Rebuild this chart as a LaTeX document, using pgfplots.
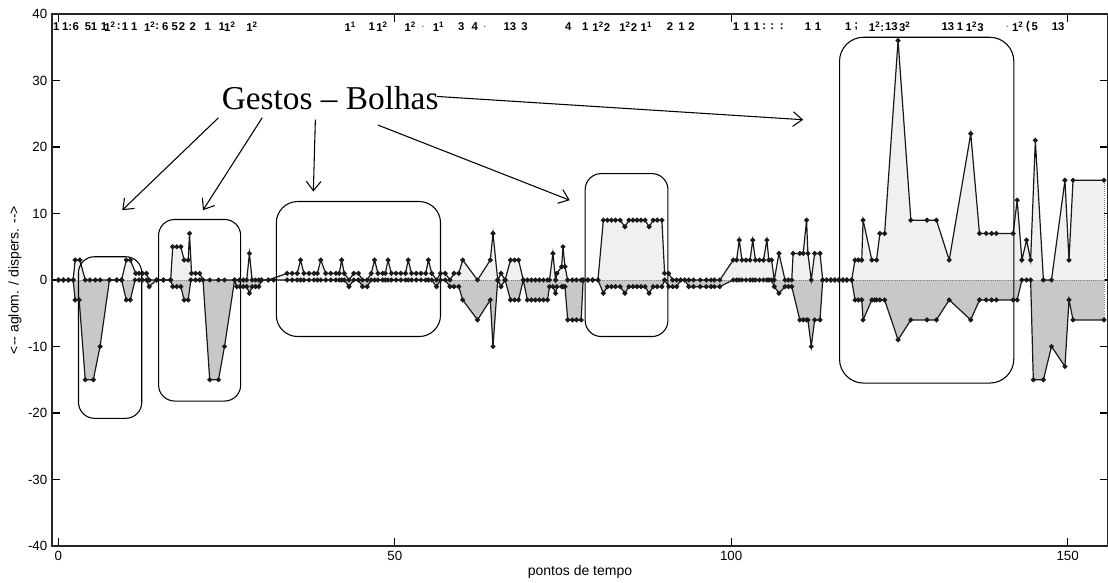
\documentclass[border=0pt]{standalone}
\usepackage{fontspec}
\setmainfont{Liberation Sans}
\newfontfamily\timesfont{Liberation Serif}
\usepackage{pgfplots}
\usepackage{pgfplotstable}
\pgfplotsset{compat=1.18}
\usetikzlibrary{arrows.meta}
\definecolor{ufill}{RGB}{240,240,240}
\definecolor{lfill}{RGB}{200,200,200}
\tikzset{tl/.style={font=\fontsize{8.5}{9}\selectfont\bfseries, inner sep=0pt}}

\pgfplotstableread{
t y
0 0
0.75 0
1.5 0
2.2 0
2.5 3
3.2 3
4.0 0
4.7 0
5.5 0
6.2 0
7.6 0
8.7 0
9.4 0
10.1 3
10.7 3
11.5 1
12.0 1
12.5 1
13.1 1
13.5 0
14.6 0
15.6 0
16.7 0
17.0 5
17.6 5
18.2 5
18.7 3
19.3 3
19.5 7
19.8 1
20.4 1
21.0 1
21.5 0
22.5 0
23.8 0
24.7 0
26.2 0
26.9 0
27.5 0
28.0 0
28.4 4
28.8 0
29.3 0
29.8 0
30.2 0
31.2 0
34.0 1
34.75 1
35.5 1
36.0 3
36.5 1
37.25 1
38.0 1
38.5 1
39.0 3
39.75 1
40.5 1
41.25 1
41.75 1
42.1 3
42.5 1
43.2 0
43.9 1
44.6 1
45.2 0
45.9 0
46.5 1
47.0 3
47.5 1
48.2 1
48.6 1
49.0 3
49.5 1
50.2 1
50.9 1
51.6 1
52.0 3
52.5 1
53.2 1
53.9 1
54.6 1
55.0 3
55.5 1
56.2 0
56.8 1
57.5 1
58.2 0
58.8 1
59.5 1
60.1 3
62.3 0
64.2 3
64.6 7
65.3 0
65.8 1
66.4 0
67.2 3
67.8 3
68.4 3
69.1 0
69.7 0
70.3 0
70.9 0
71.5 0
72.1 0
72.7 0
73.0 0
73.5 4
73.9 0
74.1 1
74.8 2
75.0 5
75.3 2
75.7 0
76.4 0
77.0 0
77.7 0
78.0 0
78.7 0
79.4 0
80.2 0
81.0 9
81.6 9
82.2 9
82.8 9
83.5 9
84.2 8
84.8 9
85.4 9
86.0 9
86.6 9
87.2 9
87.8 8
88.4 9
89.0 9
89.7 9
90.1 1
90.7 1
91.3 0
91.9 0
92.5 0
93.1 0
93.7 0
94.4 0
95.4 0
96.3 0
97.0 0
97.5 0
98.3 0
100.3 3
100.8 3
101.2 6
101.6 3
102.2 3
102.8 3
103.2 6
103.6 3
104.2 3
104.8 3
105.3 6
105.6 3
106.0 3
106.4 0
107.1 4
108.0 0
108.5 0
109.0 0
109.2 4
110.2 4
110.7 4
111.2 9
111.4 4
111.9 0
112.4 4
113.2 4
113.6 0
114.2 0
114.8 0
115.4 0
116.0 0
116.6 0
117.2 0
117.9 0
118.4 3
118.9 3
119.4 3
119.6 9
120.9 3
121.6 3
122.1 7
122.8 7
124.8 36
126.7 9
129.1 9
130.5 9
132.4 3
135.6 22
136.9 7
137.9 7
138.7 7
139.4 7
141.9 7
142.5 12
143.2 3
143.9 6
144.5 3
145.2 21
146.4 0
147.6 0
149.6 15
150.2 3
150.8 15
155.4 15
}\upperdata

\pgfplotstableread{
t y
0 0
0.75 0
1.5 0
2.2 0
2.5 -3
3.1 -3
4.0 -15
5.2 -15
6.2 -10
7.6 0
8.7 0
9.4 0
10.1 -3
10.7 -3
11.4 0
12.0 0
12.5 0
13.1 0
13.5 -1
14.6 0
15.6 0
16.7 0
17.0 -1
17.6 -1
18.2 -1
18.7 -3
19.3 -3
19.7 0
20.4 0
21.0 0
21.5 0
22.5 -15
23.8 -15
24.7 -10
26.2 0
26.5 -1
27.0 -1
27.5 -1
28.0 -1
28.4 -2
28.8 -1
29.3 -1
29.8 -1
30.2 0
31.2 0
32.0 0
34.0 0
34.75 0
35.5 0
36.0 0
36.5 0
37.25 0
38.0 0
38.5 0
39.0 0
39.75 0
40.5 0
41.25 0
41.75 0
42.1 0
42.5 0
43.2 -1
43.9 0
44.6 0
45.2 -1
45.9 -1
46.5 0
47.0 0
47.5 0
48.2 0
48.6 0
49.0 0
49.5 0
50.2 0
50.9 0
51.6 0
52.0 0
52.5 0
53.2 0
53.9 0
54.6 0
55.0 0
55.5 0
56.2 -1
56.8 0
57.5 0
58.2 -1
58.8 -1
59.5 -1
60.1 -3
62.3 -6
64.2 -3
64.6 -10
65.3 0
65.8 -1
66.4 0
67.2 -3
67.8 -3
68.4 -3
69.1 0
69.7 -3
70.3 -3
70.9 -3
71.5 -3
72.1 -3
72.7 -3
73.0 -1
73.5 -1
73.9 -2
74.1 -1
74.8 -1
75.0 -1
75.3 -1
75.7 -6
76.4 -6
77.0 -6
77.7 -6
78.0 0
78.7 0
79.4 0
80.2 0
81.0 -2
81.6 -1
82.2 -1
82.8 -1
83.5 -1
84.2 -2
84.8 -1
85.4 -1
86.0 -1
86.6 -1
87.2 -1
87.8 -2
88.4 -1
89.0 -1
89.7 -1
90.1 0
90.7 -1
91.3 -1
91.9 -1
92.5 0
93.1 0
93.7 -1
94.4 -1
95.4 -1
96.3 -1
97.0 -1
97.5 -1
98.3 -1
100.3 0
100.8 0
101.2 0
101.6 0
102.2 0
102.8 0
103.2 0
103.6 0
104.2 0
104.8 0
105.3 0
105.6 0
106.0 0
106.4 -1
107.1 -2
108.0 -1
108.5 -1
109.0 -1
110.2 -6
110.7 -6
111.2 -6
111.4 -6
111.9 -10
112.4 -6
113.2 -6
113.6 0
114.2 0
114.8 0
115.4 0
116.0 0
116.6 0
117.2 0
117.9 0
118.4 -3
118.9 -3
119.4 -3
119.6 -6
120.9 -3
121.3 -3
121.6 -3
122.1 -3
122.8 -3
124.8 -9
126.7 -6
129.1 -6
130.5 -6
132.4 -3
135.6 -6
136.9 -3
137.9 -3
138.7 -3
139.4 -3
141.9 -3
142.5 -3
143.2 0
143.9 0
144.5 0
144.9 -15
146.4 -15
147.6 -10
149.6 -13
150.2 -3
150.8 -6
155.4 -6
}\lowerdata

\begin{document}
\begin{tikzpicture}
\begin{axis}[
  scale only axis, width=792pt, height=399pt,
  xmin=-0.94, xmax=156, ymin=-40, ymax=40,
  xtick={0,50,100,150}, ytick={-40,-30,...,40},
  tick align=inside, major tick length=6pt,
  axis line style={black!85, line width=1.1pt},
  every tick/.style={black, line width=0.8pt},
  tick label style={font=\fontsize{10}{11}\selectfont},
  /pgf/number format/assume math mode=true,
  xlabel={pontos de tempo},
  ylabel={<-{}- aglom. / dispers. -{}->},
  label style={font=\fontsize{10.5}{11}\selectfont},
  xlabel style={at={(axis description cs:0.5,-0.049)}, anchor=center},
  ylabel style={at={(axis description cs:-0.035,0.5)}, anchor=center},
  clip=false,
]
\addplot[draw=none, fill=ufill] table {\upperdata} \closedcycle;
\addplot[draw=none, fill=lfill] table {\lowerdata} \closedcycle;
\draw[densely dotted, gray, line width=0.6pt] (axis cs:0,0) -- (axis cs:155.4,0);
\draw[densely dotted, gray, line width=0.6pt] (axis cs:155.4,-6) -- (axis cs:155.4,15);
\addplot[black!90, line width=0.9pt, mark=*, mark size=1.4pt] table {\upperdata};
\addplot[black!90, line width=0.9pt, mark=*, mark size=1.4pt] table {\lowerdata};

% boxes
\draw[black, line width=0.8pt, rounded corners=12pt] (axis cs:3.0,3.5) rectangle (axis cs:12.4,-20.8);
\draw[black, line width=0.8pt, rounded corners=12pt] (axis cs:14.9,9.1) rectangle (axis cs:27.1,-18.2);
\draw[black, line width=0.8pt, rounded corners=16pt] (axis cs:32.4,11.8) rectangle (axis cs:56.8,-8.5);
\draw[black, line width=0.8pt, rounded corners=12pt] (axis cs:78.3,16.0) rectangle (axis cs:90.6,-8.5);
\draw[black, line width=0.8pt, rounded corners=18pt] (axis cs:116.1,36.5) rectangle (axis cs:142.0,-15.5);

% arrows
\draw[black, line width=0.8pt, -{Straight Barb[length=7pt,width=11pt]}] (axis cs:23.8,24.4) -- (axis cs:9.5,10.5);
\draw[black, line width=0.8pt, -{Straight Barb[length=7pt,width=11pt]}] (axis cs:30.3,24.4) -- (axis cs:21.5,10.5);
\draw[black, line width=0.8pt, -{Straight Barb[length=7pt,width=11pt]}] (axis cs:38.2,24.1) -- (axis cs:37.9,13.3);
\draw[black, line width=0.8pt, -{Straight Barb[length=7pt,width=11pt]}] (axis cs:47.5,23.3) -- (axis cs:76.0,12.0);
\draw[black, line width=0.8pt, -{Straight Barb[length=7pt,width=11pt]}] (axis cs:56.3,27.6) -- (axis cs:110.7,24.1);
\node[font=\timesfont\fontsize{25}{30}\selectfont] at (axis cs:40.4,27.4) {Gestos – Bolhas};

% top annotations
\node[tl] at (axis cs:-0.3,38.1) {1};
\node[tl] at (axis cs:1.3,38.1) {1:};
\node[tl] at (axis cs:2.6,38.1) {6};
\node[tl] at (axis cs:4.4,38.1) {5};
\node[tl] at (axis cs:5.3,38.1) {1};
\node[tl] at (axis cs:6.8,38.1) {1};
\node[tl] at (axis cs:7.7,38.1) {1\textsuperscript{2}};
\node[tl] at (axis cs:9.0,38.1) {:};
\node[tl] at (axis cs:9.9,38.1) {1};
\node[tl] at (axis cs:11.3,38.1) {1};
\node[tl] at (axis cs:13.6,38.1) {1\textsuperscript{2}};
\node[tl] at (axis cs:14.7,38.1) {:};
\node[tl] at (axis cs:15.9,38.1) {6};
\node[tl] at (axis cs:17.3,38.1) {5};
\node[tl] at (axis cs:18.4,38.1) {2};
\node[tl] at (axis cs:20.0,38.1) {2};
\node[tl] at (axis cs:22.2,38.1) {1};
\node[tl] at (axis cs:24.3,38.1) {1};
\node[tl] at (axis cs:25.5,38.1) {1\textsuperscript{2}};
\node[tl] at (axis cs:28.8,38.1) {1\textsuperscript{2}};
\node[tl] at (axis cs:43.4,38.1) {1\textsuperscript{1}};
\node[tl] at (axis cs:46.6,38.1) {1};
\node[tl] at (axis cs:48.1,38.1) {1\textsuperscript{2}};
\node[tl] at (axis cs:52.3,38.1) {1\textsuperscript{2}};
\node[tl] at (axis cs:54.2,38.1) {$\cdot$};
\node[tl] at (axis cs:56.5,38.1) {1\textsuperscript{1}};
\node[tl] at (axis cs:59.9,38.1) {3};
\node[tl] at (axis cs:61.9,38.1) {4};
\node[tl] at (axis cs:63.4,38.1) {$\cdot$};
\node[tl] at (axis cs:67.1,38.1) {13};
\node[tl] at (axis cs:69.3,38.1) {3};
\node[tl] at (axis cs:75.8,38.1) {4};
\node[tl] at (axis cs:78.3,38.1) {1};
\node[tl] at (axis cs:80.7,38.1) {1\textsuperscript{2}2};
\node[tl] at (axis cs:84.7,38.1) {1\textsuperscript{2}2};
\node[tl] at (axis cs:87.4,38.1) {1\textsuperscript{1}};
\node[tl] at (axis cs:90.9,38.1) {2};
\node[tl] at (axis cs:92.6,38.1) {1};
\node[tl] at (axis cs:94.1,38.1) {2};
\node[tl] at (axis cs:100.7,38.1) {1};
\node[tl] at (axis cs:102.3,38.1) {1};
\node[tl] at (axis cs:103.8,38.1) {1};
\node[tl] at (axis cs:104.9,38.1) {:};
\node[tl] at (axis cs:106.1,38.1) {:};
\node[tl] at (axis cs:107.5,38.1) {:};
\node[tl] at (axis cs:111.4,38.1) {1};
\node[tl] at (axis cs:112.9,38.1) {1};
\node[tl] at (axis cs:117.4,38.1) {1};
\node[tl] at (axis cs:118.6,38.1) {;};
\node[tl] at (axis cs:121.6,38.1) {1\textsuperscript{2}:};
\node[tl] at (axis cs:123.8,38.1) {13};
\node[tl] at (axis cs:125.8,38.1) {3\textsuperscript{2}};
\node[tl] at (axis cs:132.2,38.1) {13};
\node[tl] at (axis cs:134.0,38.1) {1};
\node[tl] at (axis cs:136.2,38.1) {1\textsuperscript{2}3};
\node[tl] at (axis cs:141.0,38.1) {$\cdot$};
\node[tl] at (axis cs:142.6,38.1) {1\textsuperscript{2}};
\node[tl] at (axis cs:144.1,38.1) {(};
\node[tl] at (axis cs:145.1,38.1) {5};
\node[tl] at (axis cs:148.6,38.1) {13};
\end{axis}
\pgfresetboundingbox
\path[use as bounding box] ([xshift=-39pt,yshift=-27pt]current axis.south west) rectangle ([yshift=10.5pt]current axis.north east);
\end{tikzpicture}
\end{document}
